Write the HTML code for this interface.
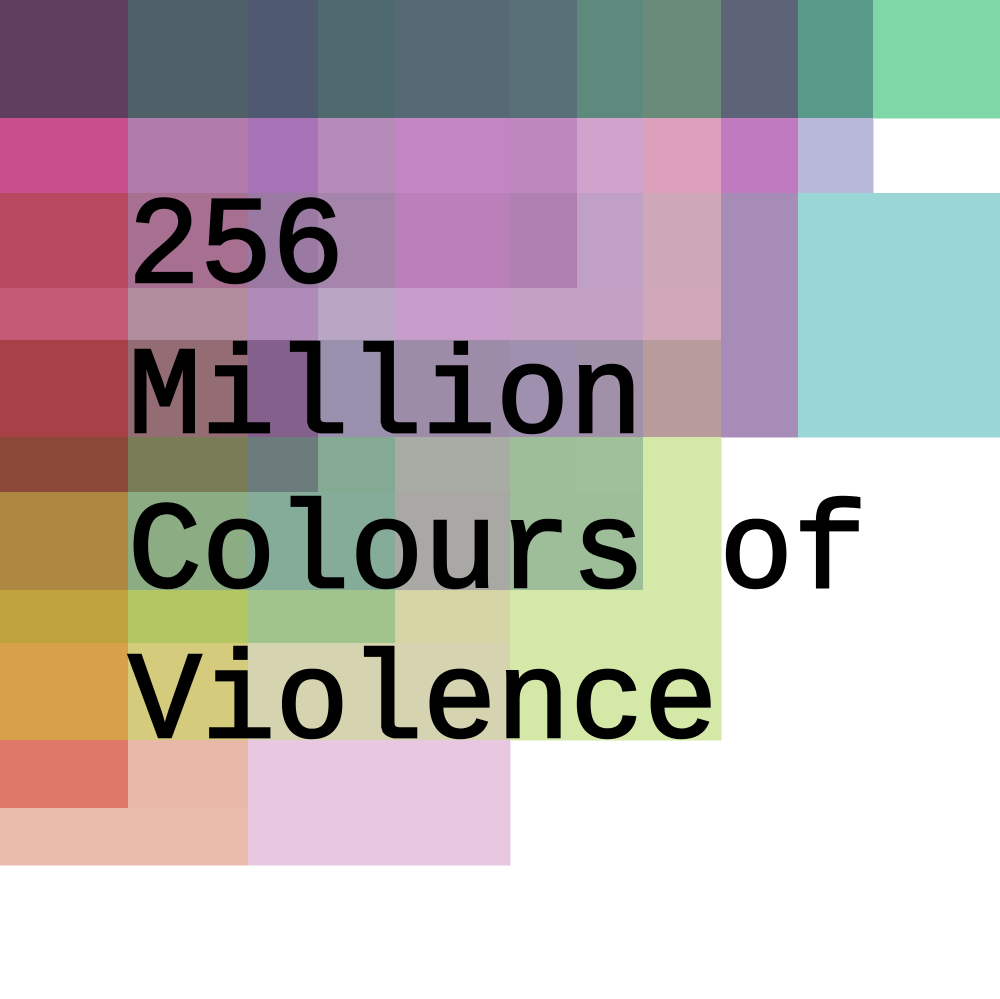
<!DOCTYPE html>
<html><head><meta charset="utf-8"><style>
html,body{margin:0;padding:0;background:#fff;width:1000px;height:999px;overflow:hidden}
</style></head><body>
<svg id="poster" width="1000" height="999" viewBox="0 0 1000 999" xmlns="http://www.w3.org/2000/svg">
<rect width="1000" height="999" fill="#fff"/>
<g id="cells"></g>
<g id="title" font-family="'Liberation Mono', monospace" font-size="124" fill="#000" stroke="#000" stroke-width="2.5"></g>
</svg>
<script>
const colEdges=[0,128,248,318,395,510,577,643,721,798,873,1000];
const rowEdges=[0,118,193,288,340,437,492,590,643,740,808,865];
const cellColors=[
["#5e3f5e","#4f6068","#4f5a70","#4e6a6e","#566a75","#5a7078","#5e8a7e","#6a8a7a","#5e6478","#5a9a8a","#7fd6a6"],
["#c84f8c","#b07aaa","#a873b6","#b68ab9","#c385c3","#bd88bd","#d0a3cc","#dca0bc","#c07abf","#b8b8d8",""],
["#b8485f","#a77091","#9a7aa3","#a685ad","#bb80ba","#b080b0","#c0a0c4","#cfa8b8","#a88cb8","#9ad6d6","#9ad6d6"],
["#c45a74","#b08c9c","#b08ab8","#b8a6c4","#c89ccb","#c4a0c4","#c4a0c4","#d0a8b8","#a88cb8","#9ad6d6","#9ad6d6"],
["#a84048","#946c74","#84608c","#9890ac","#9c8ca8","#a090b0","#a090a8","#b89c9c","#a88cb8","#9ad6d6","#9ad6d6"],
["#8c4838","#7a7c58","#6c7c7c","#84aa94","#a8aca4","#9ebe9a","#a0c09a","#d4e8a8","","",""],
["#ae8840","#8cac84","#84ac98","#84ac98","#aaa8a4","#9ebe9a","#9ebe9a","#d4e8a8","","",""],
["#c0a23c","#b4c664","#a0c48c","#a0c48c","#d4d4a4","#d4e8a8","#d4e8a8","#d4e8a8","","",""],
["#d8a048","#d4cc7c","#d6d4b0","#d6d4b0","#d6d4b0","#d4e8a8","#d4e8a8","#d4e8a8","","",""],
["#e07868","#e8b8a8","#e8c8e0","#e8c8e0","#e8c8e0","","","","","",""],
["#eabcac","#eabcac","#e8c8e0","#e8c8e0","#e8c8e0","","","","","",""]
];
const titleLines=["256","Million","Colours of","Violence"];
const NS="http://www.w3.org/2000/svg";
const cells=document.getElementById("cells");
for(let r=0;r<cellColors.length;r++){
  for(let c=0;c<cellColors[r].length;c++){
    const col=cellColors[r][c]; if(!col) continue;
    const rc=document.createElementNS(NS,"rect");
    rc.setAttribute("x",colEdges[c]);
    rc.setAttribute("y",rowEdges[r]);
    rc.setAttribute("width",colEdges[c+1]-colEdges[c]+0.5);
    rc.setAttribute("height",rowEdges[r+1]-rowEdges[r]+0.5);
    rc.setAttribute("fill",col);
    
    
    cells.appendChild(rc);
  }
}
const title=document.getElementById("title");
const baselines=[282,432,587,737];
titleLines.forEach((t,i)=>{
  const tx=document.createElementNS(NS,"text");
  tx.setAttribute("x",128);
  tx.setAttribute("y",baselines[i]);
  tx.setAttribute("textLength",t.length*74.7-8);
  tx.setAttribute("lengthAdjust","spacingAndGlyphs");
  tx.textContent=t;
  
  
  title.appendChild(tx);
});
</script>
</body></html>
